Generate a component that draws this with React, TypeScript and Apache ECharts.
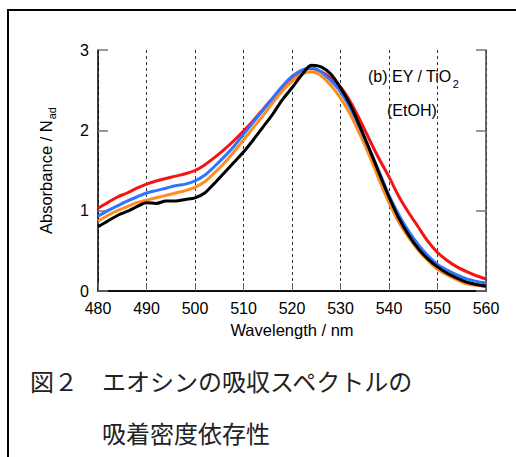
import React, { useEffect, useRef } from "react";
import * as echarts from "echarts";

const wavelengths = [
  480, 482, 484, 486, 488, 490, 492, 494, 496, 498, 500, 502, 504, 506, 508, 510, 512, 514, 516, 518, 520,
  522, 524, 526, 528, 530, 532, 534, 536, 538, 540, 542, 544, 546, 548, 550, 552, 554, 556, 558, 560,
];

const redValues = [
  1.03, 1.1, 1.17, 1.22, 1.28, 1.33, 1.37, 1.4, 1.43, 1.46, 1.5, 1.57, 1.66, 1.76, 1.87, 1.99, 2.12, 2.26, 2.4,
  2.54, 2.66, 2.74, 2.77, 2.73, 2.65, 2.54, 2.36, 2.13, 1.88, 1.64, 1.42, 1.18, 0.98, 0.8, 0.62, 0.48, 0.38,
  0.3, 0.24, 0.19, 0.15,
];

const blueValues = [
  0.93, 1.0, 1.06, 1.12, 1.17, 1.22, 1.25, 1.28, 1.31, 1.33, 1.37, 1.44, 1.55, 1.67, 1.8, 1.95, 2.1, 2.25, 2.4,
  2.55, 2.67, 2.75, 2.78, 2.73, 2.62, 2.48, 2.28, 2.03, 1.76, 1.48, 1.19, 0.95, 0.75, 0.58, 0.44, 0.33, 0.26,
  0.2, 0.15, 0.12, 0.1,
];

const orangeValues = [
  0.87, 0.94, 1.0, 1.05, 1.1, 1.13, 1.16, 1.19, 1.22, 1.25, 1.29, 1.36, 1.47, 1.59, 1.73, 1.88, 2.03, 2.18, 2.34,
  2.49, 2.61, 2.7, 2.73, 2.68, 2.56, 2.4, 2.2, 1.95, 1.68, 1.38, 1.1, 0.86, 0.67, 0.51, 0.38, 0.27, 0.2, 0.14,
  0.09, 0.07, 0.06,
];

const blackValues = [
  0.8, 0.87, 0.94, 0.99, 1.05, 1.1, 1.09, 1.12, 1.12, 1.14, 1.16, 1.22, 1.34, 1.47, 1.6, 1.73, 1.88, 2.04, 2.2,
  2.38, 2.53, 2.69, 2.81, 2.79, 2.7, 2.53, 2.32, 2.05, 1.76, 1.46, 1.17, 0.91, 0.7, 0.53, 0.4, 0.3, 0.22, 0.16,
  0.11, 0.08, 0.06,
];

const xTicks = { min: 480, max: 560, interval: 10 };
const yTicks = { min: 0, max: 3, interval: 1 };

const seriesDefs = [
  { name: "red", color: "#f41414", values: redValues },
  { name: "orange", color: "#ff8c1e", values: orangeValues },
  { name: "blue", color: "#2f74ff", values: blueValues },
  { name: "black", color: "#000000", values: blackValues },
];

const FONT = "'Liberation Sans', Arial, sans-serif";
const CJK = "'Noto Sans CJK JP', sans-serif";

export default function App() {
  const ref = useRef<HTMLDivElement>(null);
  useEffect(() => {
    if (!ref.current) return;
    const chart = echarts.init(ref.current, undefined, { renderer: "svg" });
    const option: any = {
      animation: false,
      backgroundColor: "#ffffff",
      grid: { left: 98, right: 30, top: 50, bottom: 166, containLabel: false },
      xAxis: [
        {
          type: "value",
          position: "bottom",
          min: xTicks.min,
          max: xTicks.max,
          interval: xTicks.interval,
          name: "Wavelength / nm",
          nameLocation: "middle",
          nameGap: 30,
          nameTextStyle: { fontFamily: FONT, fontSize: 16.5, color: "#000" },
          axisLine: { show: true, lineStyle: { color: "#000", width: 1.5 } },
          axisTick: { show: true, inside: true, length: 8, lineStyle: { color: "#666", width: 1 } },
          axisLabel: { fontFamily: FONT, fontSize: 16, color: "#000", margin: 9 },
          splitLine: { show: true, lineStyle: { color: "#333", width: 1, type: [3, 3] } },
        },
        {
          type: "value",
          position: "top",
          min: xTicks.min,
          max: xTicks.max,
          interval: xTicks.interval,
          axisLine: { show: true, lineStyle: { color: "#000", width: 1.5 } },
          axisTick: { show: false },
          axisLabel: { show: false },
          splitLine: { show: false },
        },
      ],
      yAxis: [
        {
          type: "value",
          position: "left",
          min: yTicks.min,
          max: yTicks.max,
          interval: yTicks.interval,
          name: "{a|Absorbance / N}{b|ad}",
          nameLocation: "middle",
          nameGap: 42,
          nameTextStyle: {
            fontFamily: FONT,
            color: "#000",
            rich: {
              a: { fontFamily: FONT, fontSize: 16.5, color: "#000", verticalAlign: "top", lineHeight: 19 },
              b: {
                fontFamily: FONT,
                fontSize: 11,
                color: "#000",
                verticalAlign: "top",
                lineHeight: 12,
                padding: [9, 0, 0, 1],
              },
            },
          },
          axisLine: { show: true, lineStyle: { color: "#000", width: 1.5 } },
          axisTick: { show: true, inside: true, length: 10, lineStyle: { color: "#777", width: 1.5 } },
          axisLabel: { fontFamily: FONT, fontSize: 16, color: "#000", margin: 9 },
          splitLine: { show: false },
        },
        {
          type: "value",
          position: "right",
          min: yTicks.min,
          max: yTicks.max,
          interval: yTicks.interval,
          axisLine: { show: true, lineStyle: { color: "#444", width: 1.5 } },
          axisTick: { show: true, inside: true, length: 10, lineStyle: { color: "#777", width: 1.5 } },
          axisLabel: { show: false },
          splitLine: { show: false },
        },
      ],
      series: seriesDefs.map((s) => ({
        name: s.name,
        type: "line",
        xAxisIndex: 0,
        yAxisIndex: 0,
        showSymbol: false,
        smooth: 0.3,
        clip: true,
        data: wavelengths.map((w, i) => [w, s.values[i]]),
        lineStyle: { color: s.color, width: 3 },
        itemStyle: { color: s.color },
      })),
      graphic: [
        {
          type: "rect",
          shape: { x: 8, y: 10, width: 540, height: 480 },
          style: { fill: "none", stroke: "#000", lineWidth: 2 },
          silent: true,
        },
        {
          type: "text",
          x: 368,
          y: 68,
          style: {
            text: "{a|(b) EY / TiO}{b|2}",
            fill: "#000",
            verticalAlign: "top",
            rich: {
              a: { fontFamily: FONT, fontSize: 16, fill: "#000", verticalAlign: "top", lineHeight: 19 },
              b: {
                fontFamily: FONT,
                fontSize: 11,
                fill: "#000",
                verticalAlign: "top",
                lineHeight: 12,
                padding: [10, 0, 0, 1],
              },
            },
          },
        },
        {
          type: "text",
          x: 387,
          y: 110,
          style: { text: "(EtOH)", fontFamily: FONT, fontSize: 16, fill: "#000", verticalAlign: "middle" },
        },
        {
          type: "text",
          x: 30,
          y: 380,
          style: {
            text: "図２　エオシンの吸収スペクトルの",
            fontFamily: CJK,
            fontSize: 24,
            fill: "#222",
            verticalAlign: "middle",
          },
        },
        {
          type: "text",
          x: 102,
          y: 432,
          style: {
            text: "吸着密度依存性",
            fontFamily: CJK,
            fontSize: 24,
            fill: "#222",
            verticalAlign: "middle",
          },
        },
      ],
    };
    chart.setOption(option);
    return () => chart.dispose();
  }, []);
  return (
    <div
      ref={ref}
      style={{ position: "absolute", left: 0, top: 0, width: 516, height: 457, background: "#fff" }}
    />
  );
}
